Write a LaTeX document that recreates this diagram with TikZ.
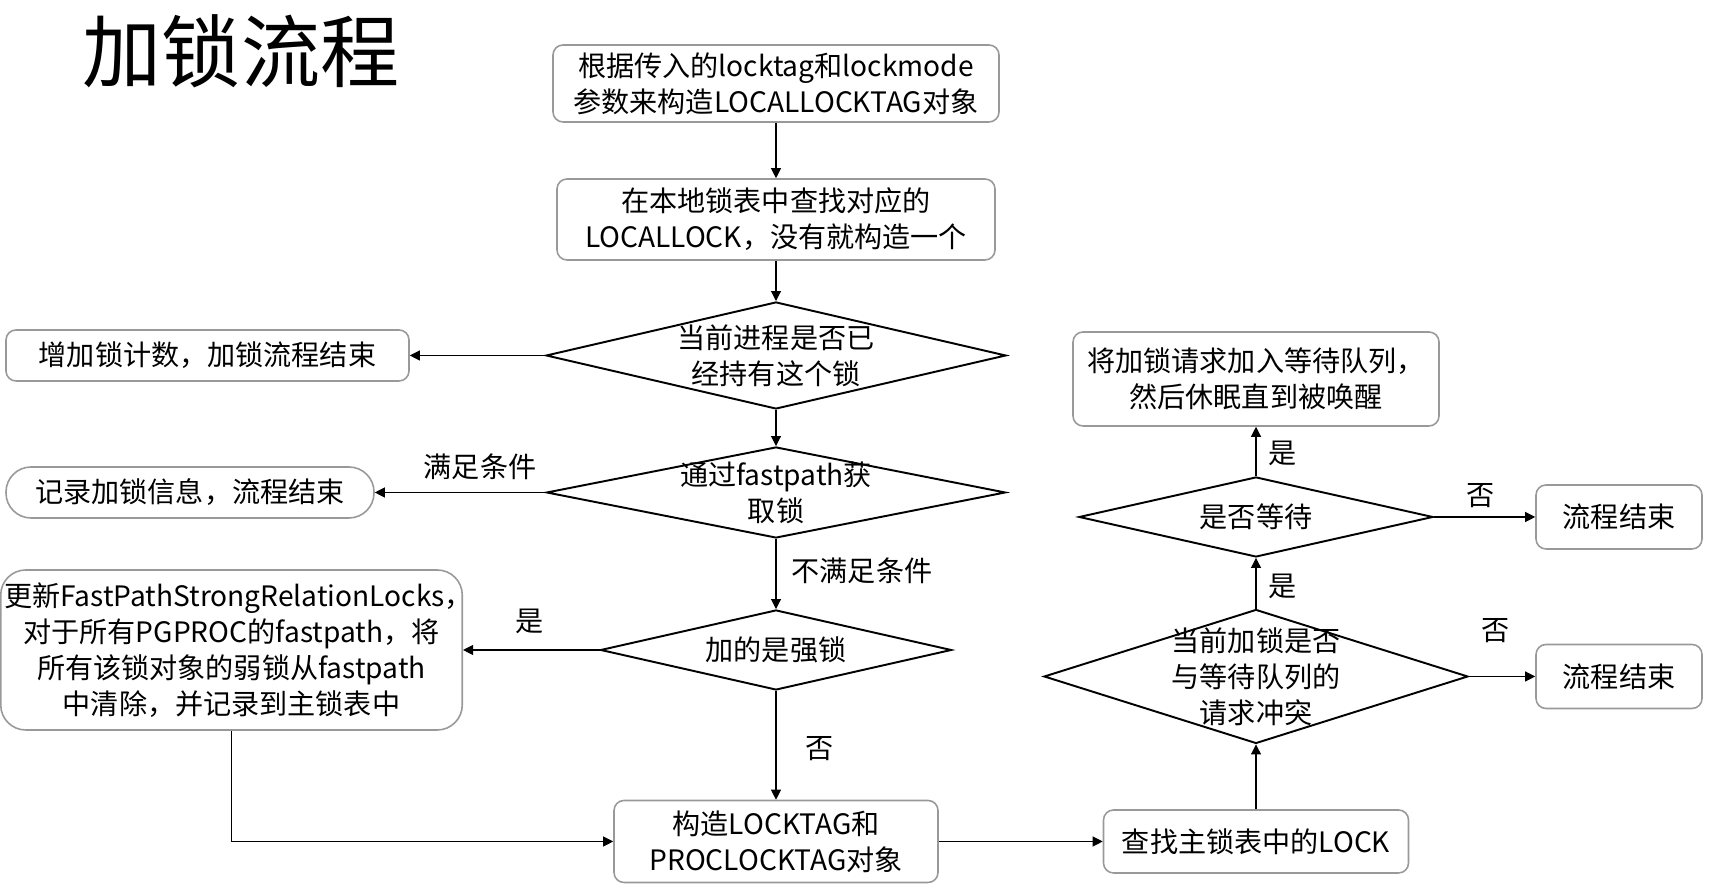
\documentclass[tikz,border=0pt]{standalone}
\usepackage{fontspec}
\setmainfont{Noto Sans CJK SC}
\usetikzlibrary{shapes.geometric,arrows.meta}
\begin{document}
\begin{tikzpicture}[
  txt/.style={align=center,font=\fontsize{16}{20.5}\selectfont},
  box/.style={txt,draw=black!40,line width=0.9pt,rounded corners=0.2cm},
  pill/.style={box,rounded corners=0.5cm},
  dia/.style={diamond,draw=black,line width=1.1pt,inner sep=0pt},
  arr/.style={-{Triangle[length=2mm,width=2mm]},line width=0.6pt}
]
\useasboundingbox (0,0) rectangle (34.2,17.88);
%\draw[step=1cm,gray,very thin] (0,0) grid (34,17); %background grid
\node[font=\fontsize{45}{50}\selectfont] (title) at (4.82,16.86) {加锁流程};
% main column
\node[box,minimum width=8.92cm,minimum height=1.54cm] (b_tag) at (15.52,16.21) {根据传入的locktag和lockmode\\参数来构造LOCALLOCKTAG对象};
\node[box,minimum width=8.76cm,minimum height=1.62cm] (b_local) at (15.52,13.49) {在本地锁表中查找对应的\\LOCALLOCK，没有就构造一个};
\node[dia,minimum width=9.2cm,minimum height=2.14cm,label={[txt]center:当前进程是否已\\经持有这个锁}] (d_held) at (15.52,10.77) {};
\node[dia,minimum width=9.18cm,minimum height=1.82cm,label={[txt]center:通过fastpath获\\取锁}] (d_fast) at (15.52,8.03) {};
\node[dia,minimum width=7.02cm,minimum height=1.6cm,label={[txt]center:加的是强锁}] (d_strong) at (15.52,4.88) {};
\node[box,minimum width=6.48cm,minimum height=1.64cm] (b_make) at (15.52,1.05) {构造LOCKTAG和\\PROCLOCKTAG对象};
% left side
\node[box,minimum width=8.06cm,minimum height=1.02cm] (b_inc) at (4.15,10.77) {增加锁计数，加锁流程结束};
\node[pill,minimum width=7.36cm,minimum height=1.02cm] (b_rec) at (3.80,8.03) {记录加锁信息，流程结束};
\node[pill,inner sep=2pt,minimum width=9.14cm,minimum height=3.2cm] (b_upd) at (4.63,4.88) {更新FastPathStrongRelationLocks\makebox[0.5em][l]{，}\\对于所有PGPROC的fastpath，将\\所有该锁对象的弱锁从fastpath\\中清除，并记录到主锁表中};
% right side
\node[box,minimum width=6.1cm,minimum height=1.26cm] (b_find) at (25.12,1.05) {查找主锁表中的LOCK};
\node[dia,minimum width=8.48cm,minimum height=2.68cm,label={[txt]center:当前加锁是否\\与等待队列的\\请求冲突}] (d_conf) at (25.12,4.35) {};
\node[dia,minimum width=7.08cm,minimum height=1.6cm,label={[txt]center:是否等待}] (d_wait) at (25.12,7.54) {};
\node[box,minimum width=7.32cm,minimum height=1.88cm] (b_wait) at (25.12,10.3) {将加锁请求加入等待队列，\\然后休眠直到被唤醒};
\node[box,minimum width=3.32cm,minimum height=1.28cm] (end_a) at (32.38,7.54) {流程结束};
\node[box,minimum width=3.32cm,minimum height=1.28cm] (end_b) at (32.38,4.35) {流程结束};
% edge labels
\node[txt] (l_ok) at (9.6,8.54) {满足条件};
\node[txt] (l_nok) at (17.24,6.46) {不满足条件};
\node[txt] (l_yes1) at (10.6,5.46) {是};
\node[txt] (l_no1) at (16.4,2.9) {否};
\node[txt] (l_yes2) at (25.66,6.16) {是};
\node[txt] (l_yes3) at (25.66,8.82) {是};
\node[txt] (l_no2) at (29.62,7.96) {否};
\node[txt] (l_no3) at (29.92,5.26) {否};
% connectors
\draw[arr] (b_tag) -- (b_local);
\draw[arr] (b_local) -- (d_held);
\draw[arr] (d_held) -- (b_inc);
\draw[arr] (d_held) -- (d_fast);
\draw[arr] (d_fast) -- (b_rec);
\draw[arr] (d_fast) -- (d_strong);
\draw[arr] (d_strong) -- (b_upd);
\draw[arr] (d_strong) -- (b_make);
\draw[arr] (b_upd.south) |- (b_make.west);
\draw[arr] (b_make) -- (b_find);
\draw[arr] (b_find) -- (d_conf);
\draw[arr] (d_conf) -- (d_wait);
\draw[arr] (d_wait) -- (b_wait);
\draw[arr] (d_wait) -- (end_a);
\draw[arr] (d_conf) -- (end_b);
\end{tikzpicture}
\end{document}
